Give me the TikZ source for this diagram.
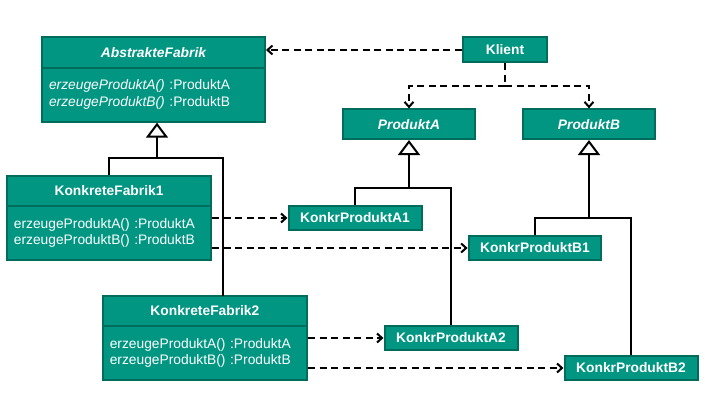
\documentclass[tikz,border=0pt]{standalone}
\usepackage{fontspec}
\setmainfont{Liberation Sans}
\usetikzlibrary{arrows.meta}

\definecolor{clsfill}{RGB}{0,150,130}
\definecolor{clsborder}{RGB}{0,108,92}

\tikzset{
  box/.style={draw=clsborder, fill=clsfill, line width=2pt, text=white,
    inner sep=0pt, font=\fontsize{13.8}{16.6}\selectfont},
  title/.style={box, font=\fontsize{13.8}{16.6}\selectfont\bfseries},
  abstitle/.style={box, font=\fontsize{13.8}{16.6}\selectfont\bfseries\itshape},
  members/.style={box, align=left, inner xsep=7pt},
  depend/.style={draw=black, line width=2pt, dash pattern=on 7pt off 4.5pt,
    -{Straight Barb[length=5pt,width=9pt,line width=2pt]}},
  inherit/.style={draw=black, line width=2pt,
    -{Triangle[length=15pt,width=22pt,fill=white,line width=2pt]}},
  joinline/.style={draw=black, line width=2pt},
}

\begin{document}
\begin{tikzpicture}[x=1pt, y=-1pt]
  \useasboundingbox (0,0) rectangle (705,404);

  % abstract factory with its two creation methods
  \node[abstitle, minimum width=223pt, minimum height=30.4pt] (af) at (153.5,52.5) {AbstrakteFabrik};
  \node[members, minimum width=223pt, minimum height=54pt, text width=209pt] (afm) at (153.5,94.7)
    {\textit{erzeugeProduktA()} :ProduktA\\\textit{erzeugeProduktB()} :ProduktB};

  % client and the abstract products
  \node[title, minimum width=84.6pt, minimum height=25pt] (kl) at (505,50) {Klient};
  \node[abstitle, minimum width=132.3pt, minimum height=29.7pt] (pa) at (409,124.2) {ProduktA};
  \node[abstitle, minimum width=132.3pt, minimum height=29.7pt] (pb) at (589,124.2) {ProduktB};

  % concrete factories
  \node[title, minimum width=204.3pt, minimum height=30pt] (kf1) at (109,190.7) {KonkreteFabrik1};
  \node[members, minimum width=204.3pt, minimum height=54.3pt, text width=190.3pt] (kf1m) at (109,232.9)
    {erzeugeProduktA() :ProduktA\\erzeugeProduktB() :ProduktB};
  \node[title, minimum width=204.3pt, minimum height=30.3pt] (kf2) at (204.9,310.9) {KonkreteFabrik2};
  \node[members, minimum width=204.3pt, minimum height=54pt, text width=190.3pt] (kf2m) at (204.9,353)
    {erzeugeProduktA() :ProduktA\\erzeugeProduktB() :ProduktB};

  % concrete products
  \node[title, minimum width=133pt, minimum height=23.6pt] (kpa1) at (355,218) {KonkrProduktA1};
  \node[title, minimum width=132.7pt, minimum height=23.6pt] (kpb1) at (535,248) {KonkrProduktB1};
  \node[title, minimum width=133pt, minimum height=23.6pt] (kpa2) at (451,338) {KonkrProduktA2};
  \node[title, minimum width=133pt, minimum height=24.3pt] (kpb2) at (631,368) {KonkrProduktB2};

  % junction points of the generalisation trees
  \coordinate (jaf) at (157,158);
  \coordinate (jpa) at (409,188);
  \coordinate (jpb) at (589,218);
  \coordinate (kf2top) at (223,295.7);
  \coordinate (kldown) at (505,86);

  % generalisation: factories
  \draw[joinline] (kf1.north) |- (jaf);
  \draw[joinline] (kf2top) |- (jaf);
  \draw[inherit] (jaf) -- (jaf |- afm.south);

  % generalisation: products A
  \draw[joinline] (kpa1.north) |- (jpa);
  \draw[joinline] (kpa2.north) |- (jpa);
  \draw[inherit] (jpa) -- (pa.south);

  % generalisation: products B
  \draw[joinline] (kpb1.north) |- (jpb);
  \draw[joinline] (kpb2.north) |- (jpb);
  \draw[inherit] (jpb) -- (pb.south);

  % client dependencies
  \draw[depend] (kl.west) -- (kl.west -| af.east);
  \draw[depend] (kl.south) -- (kldown) -| (pa.north);
  \draw[depend] (kldown) -| (pb.north);

  % factory dependencies on the products they create
  \draw[depend] (kpa1.west -| kf1m.east) -- (kpa1.west);
  \draw[depend] (kpb1.west -| kf1m.east) -- (kpb1.west);
  \draw[depend] (kpa2.west -| kf2m.east) -- (kpa2.west);
  \draw[depend] (kpb2.west -| kf2m.east) -- (kpb2.west);
\end{tikzpicture}
\end{document}
